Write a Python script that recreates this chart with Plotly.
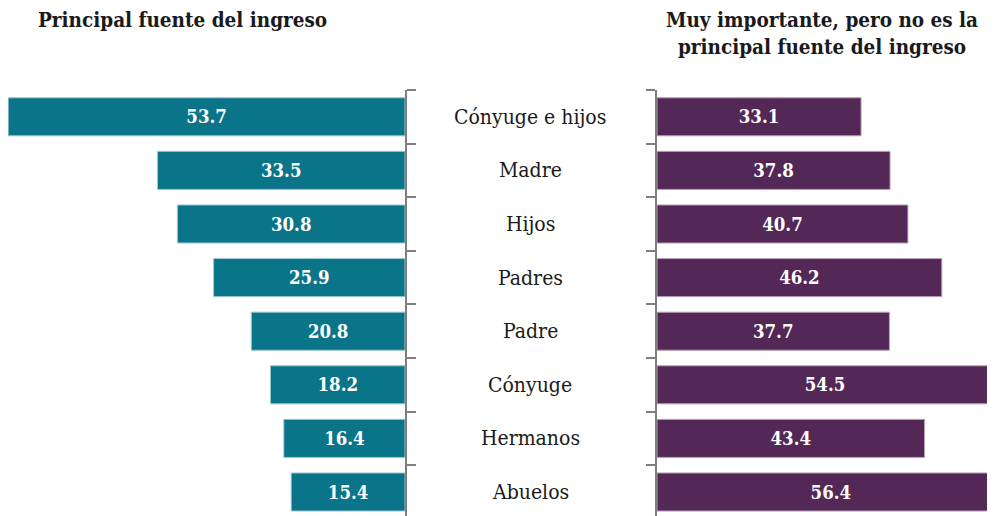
import plotly.graph_objects as go

categorias = ["Cónyuge e hijos", "Madre", "Hijos", "Padres", "Padre", "Cónyuge", "Hermanos", "Abuelos"]
principal = [53.7, 33.5, 30.8, 25.9, 20.8, 18.2, 16.4, 15.4]
importante = [33.1, 37.8, 40.7, 46.2, 37.7, 54.5, 43.4, 56.4]

titulo_izq = "Principal fuente del ingreso"
titulo_der = "Muy importante, pero no es la<br>principal fuente del ingreso"

OFF = 8  # the page body adds an 8px margin; size the figure to fit the window
W, H = 995 - OFF, 516 - OFF
TOP = 90 - OFF
SLOT = 53.6
FONT = "DejaVu Serif Condensed"
TEAL = "#0a7489"
PURPLE = "#542856"
GRAY = "#7f7f7f"

fig = go.Figure()

fig.add_trace(go.Bar(
    x=principal, y=categorias, orientation="h",
    marker=dict(color=TEAL, line=dict(color="#9fc6cf", width=1)),
    texttemplate="%{x:.1f}", textposition="inside", insidetextanchor="middle",
    textangle=0, textfont=dict(family=FONT, size=18.5, color="white", weight="bold"),
    xaxis="x", yaxis="y", showlegend=False,
))
fig.add_trace(go.Bar(
    x=importante, y=categorias, orientation="h",
    marker=dict(color=PURPLE, line=dict(color="#b6a3b8", width=1)),
    texttemplate="%{x:.1f}", textposition="inside", insidetextanchor="middle",
    textangle=0, textfont=dict(family=FONT, size=18.5, color="white", weight="bold"),
    xaxis="x2", yaxis="y2", showlegend=False,
))

ph = H - TOP
yax = dict(
    type="category", range=[-0.5 + ph / SLOT, -0.5], showline=True, linecolor=GRAY, linewidth=2,
    ticks="outside", ticklen=9, tickwidth=2, tickcolor=GRAY, tickson="boundaries",
    showticklabels=False, showgrid=False, zeroline=False,
)
fig.update_layout(
    width=W, height=H,
    margin=dict(l=0, r=0, t=TOP, b=0),
    plot_bgcolor="white", paper_bgcolor="white",
    bargap=0.29,
    font=dict(family=FONT, color="#1a1a1a"),
    xaxis=dict(domain=[0, (405 - OFF) / W], range=[(405 - OFF) / 7.39, 0], visible=False, fixedrange=True),
    xaxis2=dict(domain=[(657 - OFF) / W, 1], range=[0, 338 / 6.165], visible=False, fixedrange=True),
    yaxis=dict(yax, anchor="x", side="right"),
    yaxis2=dict(yax, anchor="x2", side="left", matches="y"),
)

for c in categorias:
    fig.add_annotation(x=(530 - OFF) / W, xref="paper", y=c, yref="y", text=c, showarrow=False,
                       xanchor="center", yanchor="middle",
                       font=dict(family=FONT, size=21, color="#1a1a1a"))

fig.add_annotation(x=(36 - OFF) / W, xref="paper", y=1 + (TOP - (20 - OFF)) / ph, yref="paper",
                   text="<b>" + titulo_izq + "</b>", showarrow=False,
                   xanchor="left", yanchor="middle",
                   font=dict(family=FONT, size=20.5, color="#1a1a1a"))
fig.add_annotation(x=(822 - OFF) / W, xref="paper", y=1 + (TOP - (34 - OFF)) / ph, yref="paper",
                   text="<b>" + titulo_der + "</b>", showarrow=False, align="center",
                   xanchor="center", yanchor="middle",
                   font=dict(family=FONT, size=20.5, color="#1a1a1a"))

fig.write_html("out.html")
